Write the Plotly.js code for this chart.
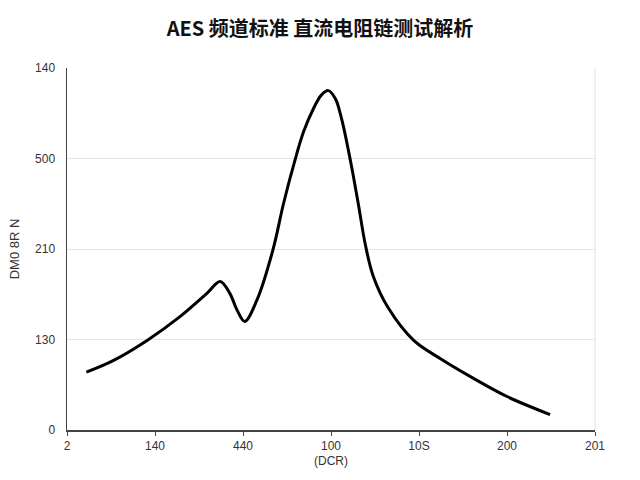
<!DOCTYPE html>
<html>
<head>
<meta charset="utf-8">
<script src="https://cdn.plot.ly/plotly-3.0.1.min.js"></script>
<style>
  html, body { margin: 0; padding: 0; background: #fff; }
  #chart { width: 640px; height: 480px; }
</style>
</head>
<body>
<div id="chart"></div>
<script>
// Values (axis positions 0..6 / 0..4)
var xTickVals = [0, 1, 2, 3, 4, 5, 6];
var xTickText = ["2", "140", "440", "100", "10S", "200", "201"];
var yTickVals = [0, 1, 2, 3, 4];
var yTickText = ["0", "130", "210", "500", "140"];

var curveX = [0.22, 0.53, 0.91, 1.28, 1.59, 1.74, 1.85, 1.93, 2.02, 2.16, 2.34, 2.46, 2.59, 2.69, 2.8, 2.89,
              2.97, 3.05, 3.12, 3.22, 3.31, 3.39, 3.48, 3.65, 3.94, 4.24, 4.62, 5.0, 5.49];
var curveY = [0.64, 0.77, 0.99, 1.25, 1.51, 1.64, 1.51, 1.33, 1.2, 1.44, 1.99, 2.5, 2.98, 3.3, 3.55, 3.7,
              3.75, 3.66, 3.44, 2.98, 2.5, 2.05, 1.7, 1.35, 0.99, 0.79, 0.57, 0.37, 0.17];

var trace = {
  x: curveX,
  y: curveY,
  type: "scatter",
  mode: "lines",
  line: { color: "#000000", width: 3, shape: "spline", smoothing: 1 },
  hoverinfo: "skip"
};

var layout = {
  width: 640,
  height: 480,
  margin: { l: 67, r: 45, t: 68, b: 50 },
  paper_bgcolor: "#ffffff",
  plot_bgcolor: "#ffffff",
  showlegend: false,
  font: { family: "Liberation Sans, Arial, sans-serif", color: "#333333", size: 12 },
  title: {
    text: "<b>AES 频道标准 直流电阻链测试解析</b>",
    font: { family: "Noto Sans CJK SC, Noto Sans, sans-serif", size: 20, color: "#111111" },
    x: 0.5,
    xanchor: "center",
    y: 0.94,
    yanchor: "middle"
  },
  xaxis: {
    range: [0, 6],
    tickmode: "array",
    tickvals: xTickVals,
    ticktext: xTickText,
    showgrid: false,
    zeroline: false,
    showline: true,
    linecolor: "#444444",
    linewidth: 1.5,
    ticks: "outside",
    ticklen: 4,
    tickcolor: "#444444",
    tickfont: { size: 12, color: "#333333" },
    title: { text: "(DCR)", font: { size: 12, color: "#333333" }, standoff: 4 }
  },
  yaxis: {
    range: [0, 4],
    tickmode: "array",
    tickvals: yTickVals,
    ticktext: yTickText,
    showgrid: true,
    gridcolor: "#e6e6e6",
    gridwidth: 1,
    zeroline: false,
    showline: true,
    linecolor: "#444444",
    linewidth: 1.5,
    ticks: "",
    ticklabelstandoff: 8,
    tickfont: { size: 12, color: "#333333" },
    title: { text: "DM0 8R N", font: { size: 13, color: "#333333" }, standoff: 12 }
  },
  shapes: [
    { type: "line", xref: "paper", yref: "paper", x0: 1, x1: 1, y0: 0, y1: 1,
      line: { color: "#e0e0e0", width: 1 } }
  ]
};

Plotly.newPlot("chart", [trace], layout, { staticPlot: true });
</script>
</body>
</html>
